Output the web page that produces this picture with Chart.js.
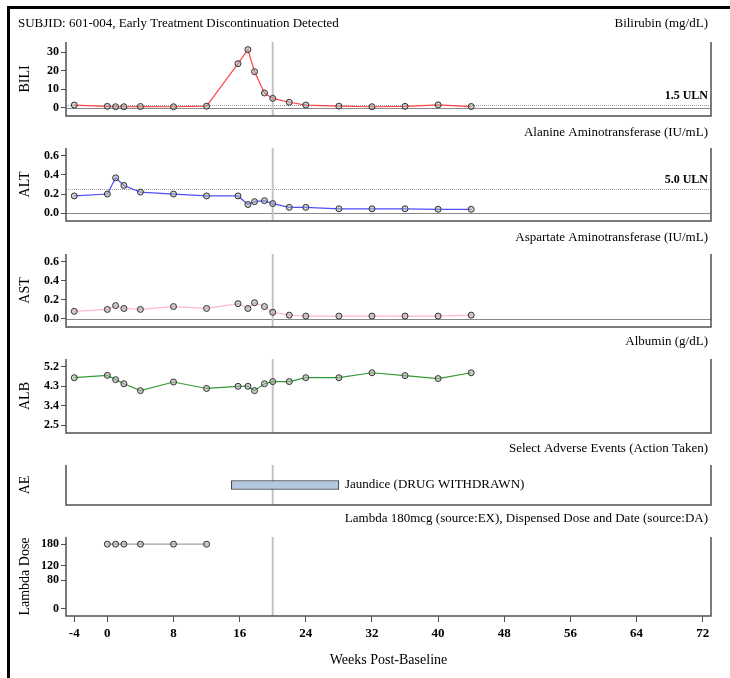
<!DOCTYPE html>
<html>
<head>
<meta charset="utf-8">
<script src="https://cdn.jsdelivr.net/npm/chart.js@4.4.1/dist/chart.umd.min.js"></script>
<style>
  html, body { margin: 0; padding: 0; background: #fff; }
  body { width: 730px; height: 678px; position: relative; overflow: hidden; }
  .frame { position: absolute; left: 7px; top: 6px; width: 900px; height: 900px;
           border-left: 3px solid #000; border-top: 3px solid #000; }
  canvas { position: absolute; left: 0; }
</style>
</head>
<body>
<div class="frame"></div>
<canvas id="bili"></canvas>
<canvas id="alt"></canvas>
<canvas id="ast"></canvas>
<canvas id="alb"></canvas>
<canvas id="ae"></canvas>
<canvas id="dose"></canvas>
<script>
// ---- data ----
const weeks = [-4, 0, 1, 2, 4, 8, 12, 15.8, 17, 17.8, 19, 20, 22, 24, 28, 32, 36, 40, 44];
const bili  = [1.4, 0.7, 0.5, 0.5, 0.6, 0.5, 0.8, 23.7, 31.3, 19.4, 7.9, 5.0, 2.9, 1.4, 0.8, 0.5, 0.7, 1.5, 0.6];
const alt   = [0.18, 0.20, 0.37, 0.29, 0.22, 0.20, 0.18, 0.18, 0.09, 0.12, 0.13, 0.10, 0.06, 0.06, 0.045, 0.045, 0.045, 0.04, 0.04];
const ast   = [0.08, 0.10, 0.14, 0.11, 0.10, 0.13, 0.11, 0.16, 0.11, 0.17, 0.13, 0.07, 0.04, 0.03, 0.03, 0.03, 0.03, 0.03, 0.04];
const alb   = [4.70, 4.81, 4.61, 4.42, 4.10, 4.50, 4.20, 4.30, 4.30, 4.10, 4.42, 4.52, 4.52, 4.70, 4.70, 4.93, 4.80, 4.66, 4.93];

const doseWeeks = [0, 1, 2, 4, 8, 12];
const dose      = [180, 180, 180, 180, 180, 180];

const aeLabel = 'Jaundice (DRUG WITHDRAWN)';
const aeStart = 15;
const aeEnd   = 28;

const refWeek = 20;            // early discontinuation marker
const xTicks    = [-4, 0, 8, 16, 24, 32, 40, 48, 56, 64, 72];
const biliTicks = [0, 10, 20, 30];
const altTicks  = [0, 0.2, 0.4, 0.6];
const astTicks  = [0, 0.2, 0.4, 0.6];
const albTicks  = [2.5, 3.4, 4.3, 5.2];
const doseTicks = [0, 80, 120, 180];

const SERIF = "'Liberation Serif', 'Times New Roman', serif";
const PAD_TOP = 36, PAD_BOTTOM = 12, AXIS_W = 66;

Chart.defaults.font.family = SERIF;
Chart.defaults.color = '#000';

function pts(xs, ys) {
    return xs.map((x, i) => ({ x: x, y: ys[i] }));
}

// reference lines, frame and text for one panel
function decoPlugin(p) {
    return {
        id: 'deco',
        beforeDatasetsDraw(chart) {
            const { ctx, chartArea: a, scales: { x, y } } = chart;
            ctx.save();
            if (p.zeroLine) {
                const yy = Math.round(y.getPixelForValue(0)) + 0.5;
                ctx.strokeStyle = '#8a8a8a';
                ctx.lineWidth = 1;
                ctx.beginPath(); ctx.moveTo(a.left, yy); ctx.lineTo(a.right, yy); ctx.stroke();
            }
            if (p.uln != null) {
                const yy = Math.round(y.getPixelForValue(p.uln)) + 0.5;
                ctx.strokeStyle = '#a0a0a0';
                ctx.lineWidth = 1;
                ctx.setLineDash([1, 1]);
                ctx.beginPath(); ctx.moveTo(a.left, yy); ctx.lineTo(a.right, yy); ctx.stroke();
                ctx.setLineDash([]);
            }
            const xx = x.getPixelForValue(refWeek);
            ctx.strokeStyle = '#c4c4c4';
            ctx.lineWidth = 2;
            ctx.beginPath(); ctx.moveTo(xx, a.top); ctx.lineTo(xx, a.bottom); ctx.stroke();
            ctx.restore();
        },
        afterDraw(chart) {
            const { ctx, chartArea: a, scales: { x, y } } = chart;
            ctx.save();
            // frame: left, bottom, right
            ctx.strokeStyle = '#505050';
            ctx.lineWidth = 1.5;
            ctx.beginPath();
            ctx.moveTo(a.left, a.top); ctx.lineTo(a.left, a.bottom);
            ctx.lineTo(a.right, a.bottom); ctx.lineTo(a.right, a.top);
            ctx.stroke();

            ctx.fillStyle = '#000';
            ctx.font = '13px ' + SERIF;
            ctx.textBaseline = 'middle';
            const ty = a.top - p.titleGap;
            ctx.textAlign = 'right';
            ctx.fillText(p.title, a.right - 3, ty);
            if (p.header) {
                ctx.textAlign = 'left';
                ctx.fillText(p.header, 18, ty);
            }
            if (p.uln != null) {
                ctx.font = 'bold 12px ' + SERIF;
                ctx.textAlign = 'right';
                ctx.textBaseline = 'bottom';
                ctx.fillText(p.ulnLabel, a.right - 3, y.getPixelForValue(p.uln) - 3);
            }
            if (p.aeText) {
                ctx.font = '13px ' + SERIF;
                ctx.textAlign = 'left';
                ctx.textBaseline = 'middle';
                ctx.fillText(p.aeText, x.getPixelForValue(aeEnd) + 6, (a.top + a.bottom) / 2);
            }
            ctx.restore();
        }
    };
}

function yScale(p) {
    return {
        type: 'linear',
        min: p.yMin,
        max: p.yMax,
        afterBuildTicks: s => { s.ticks = p.yTicks.map(v => ({ value: v })); },
        afterFit: s => { s.width = AXIS_W; },
        ticks: {
            font: { size: 12, weight: 'bold' },
            color: '#000',
            padding: 2,
            callback: v => Number(v).toFixed(p.dec)
        },
        grid: { drawOnChartArea: false, tickLength: 5, color: '#505050' },
        border: { display: false },
        title: { display: true, text: p.yTitle, font: { size: 14 }, color: '#000', padding: { top: 17, bottom: 0 } }
    };
}

function xScale(showAxis) {
    if (!showAxis) return { type: 'linear', min: -5, max: 73, display: false };
    return {
        type: 'linear',
        min: -5,
        max: 73,
        afterBuildTicks: s => { s.ticks = xTicks.map(v => ({ value: v })); },
        afterFit: s => { s.height = 56; },
        ticks: { font: { size: 13, weight: 'bold' }, color: '#000', padding: 4, maxRotation: 0 },
        grid: { drawOnChartArea: false, tickLength: 6, color: '#505050' },
        border: { display: false },
        title: { display: true, text: 'Weeks Post-Baseline', font: { size: 14 }, color: '#000', padding: { top: 0, bottom: 3 } }
    };
}

function placeCanvas(id, p, extraBottom) {
    const cv = document.getElementById(id);
    const h = PAD_TOP + (p.plotBottom - p.plotTop) + extraBottom;
    cv.width = 730;
    cv.height = h;
    cv.style.top = (p.plotTop - PAD_TOP) + 'px';
    return cv;
}

function linePanel(id, p, xs, ys, color, showAxis) {
    const extra = showAxis ? 56 : PAD_BOTTOM;
    const cv = placeCanvas(id, p, extra);
    return new Chart(cv, {
        type: 'scatter',
        data: {
            datasets: [{
                data: pts(xs, ys),
                showLine: true,
                borderColor: color,
                borderWidth: 1.2,
                pointRadius: 3,
                pointBorderWidth: 1,
                pointBorderColor: '#333',
                pointBackgroundColor: 'rgba(170,170,170,0.55)'
            }]
        },
        options: {
            responsive: false,
            animation: false,
            events: [],
            layout: { padding: { top: PAD_TOP, bottom: showAxis ? 0 : PAD_BOTTOM, left: 0, right: 19 } },
            plugins: { legend: { display: false }, tooltip: { enabled: false } },
            elements: { line: { tension: 0 } },
            scales: { x: xScale(showAxis), y: yScale(p) }
        },
        plugins: [decoPlugin(p)]
    });
}

linePanel('bili', {
    plotTop: 42, plotBottom: 116, titleGap: 18,
    header: 'SUBJID: 601-004, Early Treatment Discontinuation Detected',
    title: 'Bilirubin (mg/dL)', yTitle: 'BILI',
    yMin: -4.5, yMax: 35.4, yTicks: biliTicks, dec: 0,
    zeroLine: true, uln: 1.5, ulnLabel: '1.5 ULN'
}, weeks, bili, 'rgba(255,60,60,0.95)', false);

linePanel('alt', {
    plotTop: 148, plotBottom: 221, titleGap: 15,
    title: 'Alanine Aminotransferase (IU/mL)', yTitle: 'ALT',
    yMin: -0.083, yMax: 0.683, yTicks: altTicks, dec: 1,
    zeroLine: true, uln: 0.25, ulnLabel: '5.0 ULN'
}, weeks, alt, 'rgba(70,70,255,0.95)', false);

linePanel('ast', {
    plotTop: 254, plotBottom: 327, titleGap: 16,
    title: 'Aspartate Aminotransferase (IU/mL)', yTitle: 'AST',
    yMin: -0.084, yMax: 0.68, yTicks: astTicks, dec: 1,
    zeroLine: true
}, weeks, ast, 'rgba(255,180,195,0.95)', false);

linePanel('alb', {
    plotTop: 359, plotBottom: 433, titleGap: 17,
    title: 'Albumin (g/dL)', yTitle: 'ALB',
    yMin: 2.13, yMax: 5.57, yTicks: albTicks, dec: 1
}, weeks, alb, 'rgba(40,150,40,0.95)', false);

// adverse event bar
const aeP = {
    plotTop: 465, plotBottom: 505, titleGap: 16,
    title: 'Select Adverse Events (Action Taken)', yTitle: 'AE',
    aeText: aeLabel
};
new Chart(placeCanvas('ae', aeP, PAD_BOTTOM), {
    type: 'bar',
    data: {
        labels: [aeLabel],
        datasets: [{
            data: [[aeStart, aeEnd]],
            backgroundColor: '#b4c8e0',
            borderColor: '#333',
            borderWidth: 1,
            borderSkipped: false,
            barThickness: 9
        }]
    },
    options: {
        indexAxis: 'y',
        responsive: false,
        animation: false,
        events: [],
        layout: { padding: { top: PAD_TOP, bottom: PAD_BOTTOM, left: 0, right: 19 } },
        plugins: { legend: { display: false }, tooltip: { enabled: false } },
        scales: {
            x: xScale(false),
            y: {
                type: 'category',
                afterFit: s => { s.width = AXIS_W; },
                ticks: { display: false },
                grid: { display: false },
                border: { display: false },
                title: { display: true, text: 'AE', font: { size: 14 }, color: '#000', padding: { top: 17, bottom: 0 } }
            }
        }
    },
    plugins: [decoPlugin(aeP)]
});

linePanel('dose', {
    plotTop: 537, plotBottom: 616, titleGap: 18,
    title: 'Lambda 180mcg (source:EX), Dispensed Dose and Date (source:DA)', yTitle: 'Lambda Dose',
    yMin: -20, yMax: 200, yTicks: doseTicks, dec: 0
}, doseWeeks, dose, '#a0a0a0', true);
</script>
</body>
</html>
